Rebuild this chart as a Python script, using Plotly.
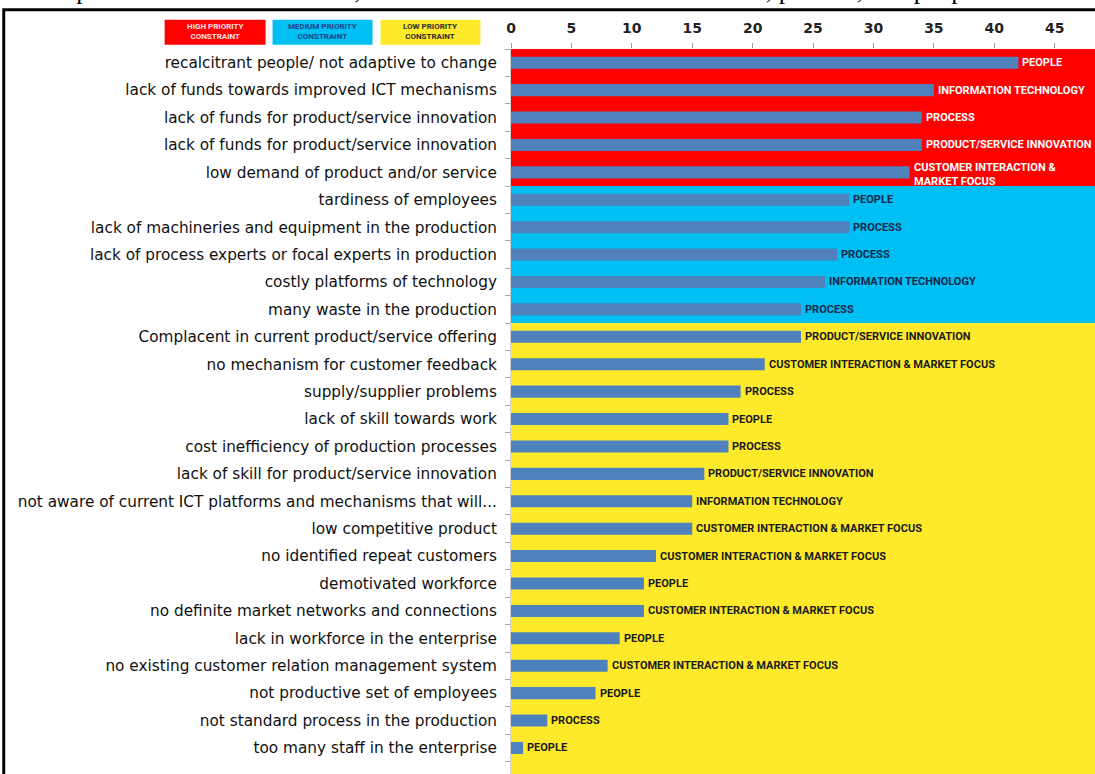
import plotly.graph_objects as go

causes = [
    "recalcitrant people/ not adaptive to change",
    "lack of funds towards improved ICT mechanisms",
    "lack of funds for product/service innovation",
    "lack of funds for product/service innovation",
    "low demand of product and/or service",
    "tardiness of employees",
    "lack of machineries and equipment in the production",
    "lack of process experts or focal experts in production",
    "costly platforms of technology",
    "many waste in the production",
    "Complacent in current product/service offering",
    "no mechanism for customer feedback",
    "supply/supplier problems",
    "lack of skill towards work",
    "cost inefficiency of production processes",
    "lack of skill for product/service innovation",
    "not aware of current ICT platforms and mechanisms that will...",
    "low competitive product",
    "no identified repeat customers",
    "demotivated workforce",
    "no definite market networks and connections",
    "lack in workforce in the enterprise",
    "no existing customer relation management system",
    "not productive set of employees",
    "not standard process in the production",
    "too many staff in the enterprise",
]
counts = [42, 35, 34, 34, 33, 28, 28, 27, 26, 24, 24, 21, 19, 18, 18, 16, 15, 15,
          12, 11, 11, 9, 8, 7, 3, 1]
areas = [
    "PEOPLE", "INFORMATION TECHNOLOGY", "PROCESS", "PRODUCT/SERVICE INNOVATION",
    "CUSTOMER INTERACTION &<br>MARKET FOCUS",
    "PEOPLE", "PROCESS", "PROCESS", "INFORMATION TECHNOLOGY", "PROCESS",
    "PRODUCT/SERVICE INNOVATION", "CUSTOMER INTERACTION & MARKET FOCUS", "PROCESS",
    "PEOPLE", "PROCESS", "PRODUCT/SERVICE INNOVATION", "INFORMATION TECHNOLOGY",
    "CUSTOMER INTERACTION & MARKET FOCUS", "CUSTOMER INTERACTION & MARKET FOCUS",
    "PEOPLE", "CUSTOMER INTERACTION & MARKET FOCUS", "PEOPLE",
    "CUSTOMER INTERACTION & MARKET FOCUS", "PEOPLE", "PROCESS", "PEOPLE",
]
priority = ["High"] * 5 + ["Medium"] * 5 + ["Low"] * 16
priority_names = ["HIGH PRIORITY<br>CONSTRAINT", "MEDIUM PRIORITY<br>CONSTRAINT",
                  "LOW PRIORITY<br>CONSTRAINT"]
x_ticks = [0, 5, 10, 15, 20, 25, 30, 35, 40, 45]

band_color = {"High": "#FF0000", "Medium": "#00BFF2", "Low": "#FEEA2A"}
label_color = {"High": "#FFFFFF", "Medium": "#14264A", "Low": "#1A1A1A"}
legend_text_color = {"High": "#FFE0E8", "Medium": "#1F3F8A", "Low": "#2A2A2A"}

W, H = 1095, 774
ML, MT = 510.6, 49.3
PW, PH = W - ML, H - MT


def px_x(px):
    return (px - ML) / PW


def px_y(py):
    return (H - py) / PH


ypos = list(range(len(causes)))

fig = go.Figure()
fig.add_trace(go.Bar(
    x=counts, y=ypos, orientation="h", width=0.44,
    marker=dict(color="#4F81BD", line=dict(width=0)),
    hoverinfo="skip", showlegend=False,
))

annotations = []
# category labels at bar ends (from data)
for i, (c, a, p) in enumerate(zip(counts, areas, priority)):
    annotations.append(dict(xref="x", yref="y", x=c, y=i, xanchor="left", yanchor="middle",
                            xshift=2, yshift=-2 if "<br>" in a else 0,
                            text=a, showarrow=False, align="left",
                            font=dict(family="Roboto", size=11, weight="bold",
                                      color=label_color[p])))

# priority bands
shapes = []
for lvl in ["High", "Medium", "Low"]:
    idx = [i for i, p in enumerate(priority) if p == lvl]
    y0 = min(idx) - 0.5
    y1 = max(idx) + 0.5 if lvl != "Low" else max(idx) + 1.5
    shapes.append(dict(type="rect", xref="paper", yref="y", x0=0, x1=1, y0=y0, y1=y1,
                       fillcolor=band_color[lvl], line=dict(width=0), layer="below"))

# legend boxes
legend_px = [(164, 265), (272, 372), (380, 480)]
for (a, b), lvl, name in zip(legend_px, ["High", "Medium", "Low"], priority_names):
    shapes.append(dict(type="rect", xref="paper", yref="paper",
                       x0=px_x(a), x1=px_x(b), y0=px_y(45), y1=px_y(20),
                       fillcolor=band_color[lvl], line=dict(width=0)))
    annotations.append(dict(xref="paper", yref="paper", x=px_x((a + b) / 2), y=px_y(32),
                            xanchor="center", yanchor="middle",
                            text=name, showarrow=False, align="center",
                            font=dict(family="Roboto", size=8, weight="bold",
                                      color=legend_text_color[lvl])))

# outer frame
shapes.append(dict(type="rect", xref="paper", yref="paper",
                   x0=px_x(3), x1=px_x(1110), y0=px_y(790), y1=px_y(10),
                   line=dict(color="black", width=3), fillcolor="rgba(0,0,0,0)"))

# clipped caption from the page above
annotations.append(dict(xref="paper", yref="paper", x=px_x(992), y=px_y(7),
                        xanchor="right", yanchor="bottom", showarrow=False,
                        text="constraints in terms of product/service innovation, customer interaction and market focus, process, and people.",
                        font=dict(family="Liberation Serif", size=26, color="black")))

fig.update_layout(
    width=W, height=H,
    margin=dict(l=ML, r=0, t=MT, b=0, pad=0),
    paper_bgcolor="white", plot_bgcolor="white",
    shapes=shapes, annotations=annotations,
    xaxis=dict(side="top", range=[0, PW / 12.09], tickvals=x_ticks,
               showgrid=False, zeroline=False, ticks="outside", ticklen=5,
               tickcolor="#999999", ticklabelstandoff=4,
               tickfont=dict(family="DejaVu Sans", size=14, weight="bold", color="#222222")),
    yaxis=dict(range=[len(causes) - 0.05, -0.5], tickvals=ypos, ticktext=causes,
               showgrid=False, zeroline=False, ticks="", showline=True,
               linecolor="#D0D0D0", linewidth=1, ticklabelstandoff=10,
               tickfont=dict(family="DejaVu Sans", size=15.3, color="#0F0F0F"),
               minor=dict(tickvals=[i - 0.5 for i in range(len(causes) + 1)],
                          ticks="outside", ticklen=5, tickcolor="#AAAAAA", showgrid=False)),
    font=dict(family="DejaVu Sans"),
)

fig.write_html("out.html")
